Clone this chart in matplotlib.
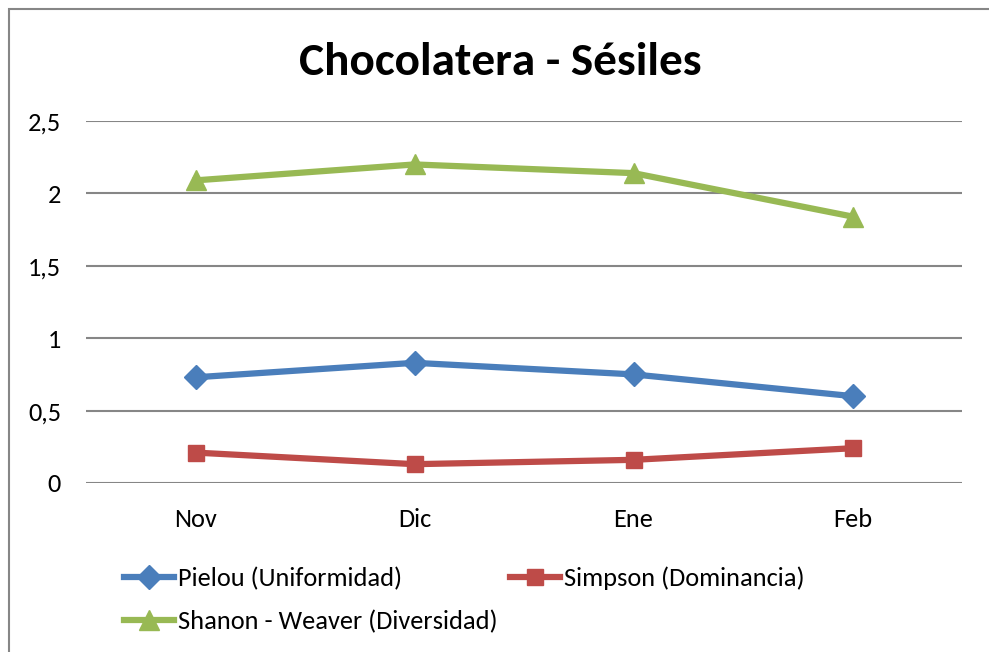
import matplotlib.pyplot as plt
from matplotlib.patches import Rectangle
from matplotlib.ticker import FuncFormatter

# Índices de diversidad por mes
meses = ["Nov", "Dic", "Ene", "Feb"]
pielou = [0.73, 0.83, 0.75, 0.60]
simpson = [0.21, 0.13, 0.16, 0.24]
shanon = [2.09, 2.20, 2.14, 1.84]

plt.rcParams["font.family"] = ["Carlito", "Open Sans", "DejaVu Sans"]

fig = plt.figure(figsize=(9.89, 6.52), dpi=100)
ax = fig.add_axes([86 / 989, 169 / 652, 876 / 989, 362 / 652])

x = range(len(meses))
l1, = ax.plot(x, pielou, color="#4A7EBB", lw=4.5, marker="D", ms=12,
              label="Pielou (Uniformidad)")
l2, = ax.plot(x, simpson, color="#BE4B48", lw=4.5, marker="s", ms=12,
              label="Simpson (Dominancia)")
l3, = ax.plot(x, shanon, color="#98B954", lw=4.5, marker="^", ms=14,
              label="Shanon - Weaver (Diversidad)")

ax.set_xlim(-0.5, len(meses) - 0.5)
ax.set_ylim(0, 2.5)
ax.set_yticks([0, 0.5, 1, 1.5, 2, 2.5])
ax.yaxis.set_major_formatter(FuncFormatter(lambda v, p: f"{v:g}".replace(".", ",")))
ax.set_xticks(list(x))
ax.set_xticklabels(meses)
ax.grid(axis="y", color="#868686", lw=1.5)
ax.set_axisbelow(True)
for s in ax.spines.values():
    s.set_visible(False)
ax.tick_params(axis="both", length=0, labelsize=19)
ax.tick_params(axis="y", pad=18)
ax.tick_params(axis="x", pad=18)

fig.text(0.506, 0.905, "Chocolatera - Sésiles", ha="center", va="center",
         fontsize=34, fontweight="bold")

fig.legend(handles=[l1, l3, l2], loc="upper left", ncol=2,
           bbox_to_anchor=(111 / 989, 1 - 553 / 652), frameon=False,
           fontsize=19, handlelength=1.9, handletextpad=0.15,
           columnspacing=0.45, labelspacing=0.75, borderpad=0)

# marco del gráfico
fig.add_artist(Rectangle((9 / 989, -0.05), 1.2, 1.05 - 9 / 652,
                         transform=fig.transFigure, fill=False,
                         edgecolor="#868686", lw=1.5))

fig.savefig("out.png", dpi=100)
